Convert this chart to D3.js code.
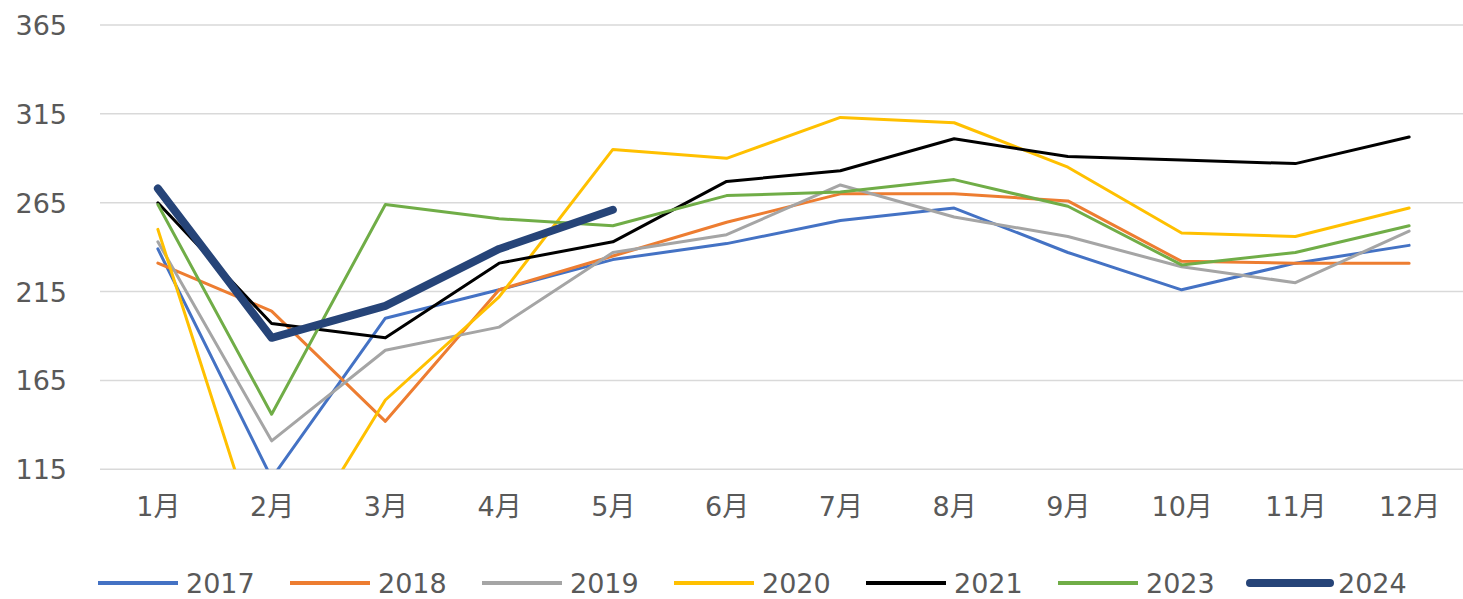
<!DOCTYPE html>
<html>
<head>
<meta charset="utf-8">
<script src="https://cdn.jsdelivr.net/npm/d3@7"></script>
<style>
  html, body { margin: 0; padding: 0; background: #fff; }
  svg { display: block; }
  text { font-family: "DejaVu Sans", "Noto Sans CJK SC", sans-serif; fill: #595959; }
</style>
</head>
<body>
<svg id="chart" width="1463" height="599"></svg>
<script>
const months = ["1月","2月","3月","4月","5月","6月","7月","8月","9月","10月","11月","12月"];
const yTicks = [115, 165, 215, 265, 315, 365];

const s2017 = [239, 110, 200, 216, 233, 242, 255, 262, 237, 216, 231, 241];
const s2018 = [231, 204, 142, 216, 235, 254, 270, 270, 266, 232, 231, 231];
const s2019 = [243, 131, 182, 195, 237, 247, 275, 257, 246, 229, 220, 249];
const s2020 = [250, 50, 154, 212, 295, 290, 313, 310, 285, 248, 246, 262];
const s2021 = [265, 197, 189, 231, 243, 277, 283, 301, 291, 289, 287, 302];
const s2023 = [264, 146, 264, 256, 252, 269, 271, 278, 263, 230, 237, 252];
const s2024 = [273, 189, 207, 239, 261];

const seriesNames = ["2017","2018","2019","2020","2021","2023","2024"];
const seriesValues = [s2017, s2018, s2019, s2020, s2021, s2023, s2024];
const seriesColors = ["#4472C4","#ED7D31","#A5A5A5","#FFC000","#000000","#70AD47","#264478"];
const seriesWidths = [3, 3, 3, 3, 3, 3, 8];

const svg = d3.select("#chart");

const x = d3.scalePoint().domain(months).range([101, 1466]).padding(0.5);
const y = d3.scaleLinear().domain([115, 365]).range([469.3, 25]);

// gridlines
svg.append("g").selectAll("line").data(yTicks).join("line")
  .attr("x1", 100).attr("x2", 1463)
  .attr("y1", d => y(d)).attr("y2", d => y(d))
  .attr("stroke", "#d9d9d9").attr("stroke-width", 1.5);

// y labels
const yAxis = d3.axisLeft(y).tickValues(yTicks).tickSize(0).tickPadding(0);
const gy = svg.append("g").attr("transform", "translate(67,0)").call(yAxis);
gy.select(".domain").remove();
gy.selectAll("text").attr("font-size", 27).attr("fill", "#595959")
  .attr("font-family", "DejaVu Sans, sans-serif").attr("dy", "0.35em");

// x labels
const xAxis = d3.axisBottom(x).tickSize(0).tickPadding(0);
const gx = svg.append("g").attr("transform", "translate(0,496)").call(xAxis);
gx.select(".domain").remove();
gx.selectAll("text").attr("font-size", 27).attr("fill", "#595959")
  .attr("font-family", "DejaVu Sans, Noto Sans CJK SC, sans-serif").attr("dy", "0.75em");

// clip
svg.append("defs").append("clipPath").attr("id", "plotclip")
  .append("rect").attr("x", 0).attr("y", 0).attr("width", 1463).attr("height", y(115));

const line = d3.line().x((d, i) => x(months[i])).y(d => y(d));

const gl = svg.append("g").attr("clip-path", "url(#plotclip)");
seriesValues.forEach((vals, k) => {
  gl.append("path").datum(vals)
    .attr("d", line)
    .attr("fill", "none")
    .attr("stroke", seriesColors[k])
    .attr("stroke-width", seriesWidths[k])
    .attr("stroke-linejoin", "round")
    .attr("stroke-linecap", "round");
});

// legend
const lg = svg.append("g");
seriesNames.forEach((name, k) => {
  const lx = 98 + k * 192;
  lg.append("line")
    .attr("x1", lx).attr("x2", lx + 80)
    .attr("y1", 583).attr("y2", 583)
    .attr("stroke", seriesColors[k])
    .attr("stroke-width", k === 6 ? 8 : 4)
    .attr("stroke-linecap", k === 6 ? "round" : "butt");
  lg.append("text")
    .attr("x", lx + 88).attr("y", 583).attr("dy", "0.36em")
    .attr("font-size", 27).attr("fill", "#595959")
    .text(name);
});
</script>
</body>
</html>
